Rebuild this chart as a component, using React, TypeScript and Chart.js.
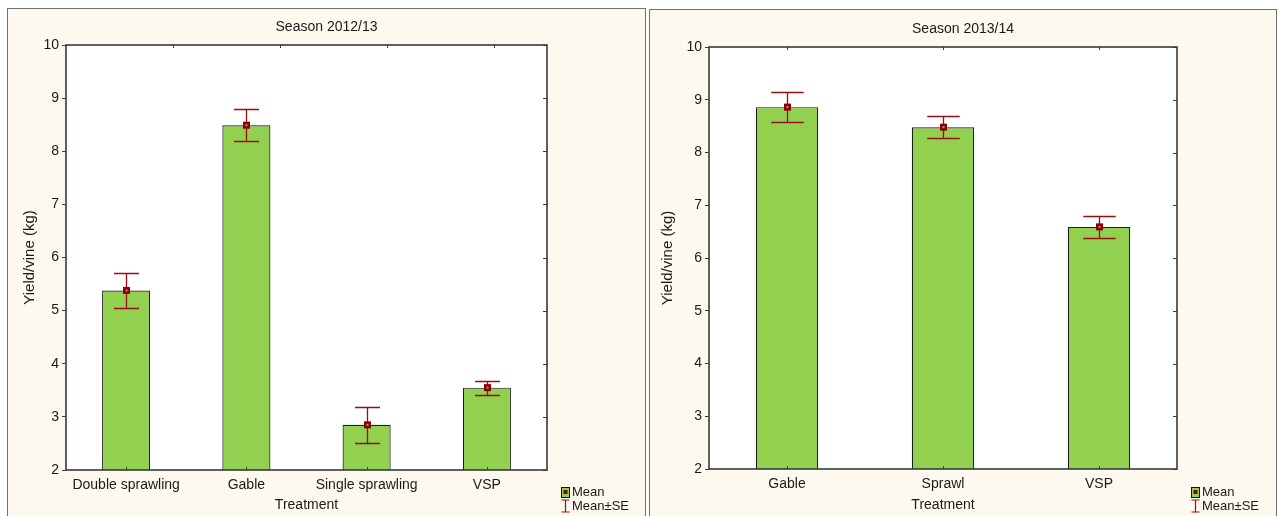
import React, { useEffect, useRef } from "react";
import { Chart, registerables } from "chart.js";

Chart.register(...registerables);

// Season 2012/13
const categories2012 = ["Double sprawling", "Gable", "Single sprawling", "VSP"];
const means2012 = [5.38, 8.49, 2.85, 3.55];
const se2012 = [0.33, 0.3, 0.34, 0.13];

// Season 2013/14
const categories2013 = ["Gable", "Sprawl", "VSP"];
const means2013 = [8.86, 8.48, 6.59];
const se2013 = [0.28, 0.21, 0.21];

const yMin = 2;
const yMax = 10;
const yStep = 1;

const FONT = "'Liberation Sans', Arial, Helvetica, sans-serif";
const TEXT = "#1a1a1a";
const FRAME = "#3a3a3a";
const BAR_FILL = "#92d050";
const BAR_EDGE = "#1e1e1e";
const ERR = "#9a0f16";
const PANEL_BG = "#fef9ef";

type PanelOpts = {
  title: string;
  means: number[];
  se: number[];
  topTickStep: number | null;
};

// Draws the Statistica-style decorations: plot frame, mirrored ticks,
// mean ± SE whiskers, mean markers, panel title and legend.
const statPanel = {
  id: "statPanel",
  beforeDatasetsDraw(chart: any) {
    const { ctx, chartArea: a } = chart;
    ctx.save();
    ctx.fillStyle = "#ffffff";
    ctx.fillRect(a.left, a.top, a.right - a.left, a.bottom - a.top);
    ctx.restore();
  },
  afterDatasetsDraw(chart: any, _args: any, opts: PanelOpts) {
    const { ctx, chartArea: a, scales } = chart;
    const y = scales.y;
    const meta = chart.getDatasetMeta(0);
    ctx.save();

    // bottom ticks pointing into the plot at each category
    ctx.strokeStyle = FRAME;
    ctx.lineWidth = 1;
    meta.data.forEach((bar: any) => {
      const x = Math.round(bar.x) + 0.5;
      ctx.beginPath();
      ctx.moveTo(x, a.bottom);
      ctx.lineTo(x, a.bottom - 3);
      ctx.stroke();
    });

    // top ticks pointing down
    const topXs: number[] = [];
    if (opts.topTickStep) {
      const w = a.right - a.left;
      for (let f = opts.topTickStep; f < 1 - 1e-6; f += opts.topTickStep) {
        topXs.push(a.left + f * w);
      }
    } else {
      meta.data.forEach((bar: any) => topXs.push(bar.x));
    }
    topXs.forEach((tx) => {
      const x = Math.round(tx) + 0.5;
      ctx.beginPath();
      ctx.moveTo(x, a.top);
      ctx.lineTo(x, a.top + 3);
      ctx.stroke();
    });

    // right-hand ticks pointing into the plot
    for (let v = yMin; v <= yMax; v += yStep) {
      const py = Math.round(y.getPixelForValue(v)) + 0.5;
      ctx.beginPath();
      ctx.moveTo(a.right, py);
      ctx.lineTo(a.right - 4, py);
      ctx.stroke();
    }

    // frame
    ctx.lineWidth = 1.6;
    ctx.strokeStyle = FRAME;
    ctx.strokeRect(a.left, a.top, a.right - a.left, a.bottom - a.top);

    // whiskers and mean markers
    meta.data.forEach((bar: any, i: number) => {
      const m = opts.means[i];
      const s = opts.se[i];
      const x = Math.round(bar.x) + 0.5;
      const cap = bar.width * 0.26;
      const yHi = Math.round(y.getPixelForValue(m + s)) + 0.5;
      const yLo = Math.round(y.getPixelForValue(m - s)) + 0.5;
      const yM = y.getPixelForValue(m);
      ctx.strokeStyle = ERR;
      ctx.lineWidth = 1.3;
      ctx.beginPath();
      ctx.moveTo(x, yHi);
      ctx.lineTo(x, yLo);
      ctx.moveTo(x - cap, yHi);
      ctx.lineTo(x + cap, yHi);
      ctx.moveTo(x - cap, yLo);
      ctx.lineTo(x + cap, yLo);
      ctx.stroke();
      ctx.fillStyle = "#8b0000";
      ctx.fillRect(x - 3.5, yM - 3.5, 7, 7);
      ctx.fillStyle = "#d88080";
      ctx.fillRect(x - 1, yM - 1, 2, 2);
    });

    // panel title
    ctx.fillStyle = TEXT;
    ctx.font = `14px ${FONT}`;
    ctx.textAlign = "center";
    ctx.textBaseline = "middle";
    ctx.fillText(opts.title, chart.width / 2, a.top - 18);

    // legend
    const lx = a.right + 14;
    const ly1 = chart.height - 24;
    const ly2 = chart.height - 10;
    ctx.fillStyle = BAR_FILL;
    ctx.fillRect(lx, ly1 - 5, 8, 10);
    ctx.strokeStyle = "#111";
    ctx.lineWidth = 1;
    ctx.strokeRect(lx + 0.5, ly1 - 5 + 0.5, 8, 10);
    ctx.fillStyle = "#8b0000";
    ctx.fillRect(lx + 2.5, ly1 - 2, 4, 4);

    ctx.strokeStyle = ERR;
    ctx.lineWidth = 1.2;
    const ix = Math.round(lx + 4) + 0.5;
    ctx.beginPath();
    ctx.moveTo(ix, ly2 - 6);
    ctx.lineTo(ix, ly2 + 6);
    ctx.moveTo(ix - 4, ly2 - 6);
    ctx.lineTo(ix + 4, ly2 - 6);
    ctx.moveTo(ix - 4, ly2 + 6);
    ctx.lineTo(ix + 4, ly2 + 6);
    ctx.stroke();

    ctx.fillStyle = TEXT;
    ctx.font = `13px ${FONT}`;
    ctx.textAlign = "left";
    ctx.fillText("Mean", lx + 11, ly1);
    ctx.fillText("Mean±SE", lx + 11, ly2);

    ctx.restore();
  },
};

type ChartProps = {
  width: number;
  height: number;
  labels: string[];
  means: number[];
  se: number[];
  title: string;
  axisWidth: number;
  axisHeight: number;
  padTop: number;
  padRight: number;
  yTitlePad: number;
  topTickStep: number | null;
};

function SeasonChart(p: ChartProps) {
  const ref = useRef<HTMLCanvasElement | null>(null);

  useEffect(() => {
    if (!ref.current) return;
    const chart = new Chart(ref.current, {
      type: "bar",
      data: {
        labels: p.labels,
        datasets: [
          {
            data: p.means,
            backgroundColor: BAR_FILL,
            borderColor: BAR_EDGE,
            borderWidth: 1.2,
            barPercentage: 0.4,
            categoryPercentage: 1,
          },
        ],
      },
      options: {
        responsive: false,
        animation: false,
        devicePixelRatio: 1,
        layout: { padding: { top: p.padTop, right: p.padRight, left: 0, bottom: 0 } },
        plugins: {
          legend: { display: false },
          tooltip: { enabled: false },
          title: { display: false },
          statPanel: {
            title: p.title,
            means: p.means,
            se: p.se,
            topTickStep: p.topTickStep,
          },
        } as any,
        scales: {
          x: {
            grid: { display: false, drawTicks: false },
            border: { display: false },
            ticks: { color: TEXT, font: { family: FONT, size: 14 }, padding: 7, maxRotation: 0 },
            title: {
              display: true,
              text: "Treatment",
              color: TEXT,
              font: { family: FONT, size: 14 },
              padding: { top: 0, bottom: 2 },
            },
            afterFit: (s: any) => {
              s.height = p.axisHeight;
            },
          },
          y: {
            min: yMin,
            max: yMax,
            grid: { drawOnChartArea: false, tickLength: 4, color: FRAME, lineWidth: 1 },
            border: { display: false },
            ticks: { stepSize: yStep, color: TEXT, font: { family: FONT, size: 14 }, padding: 3 },
            title: {
              display: true,
              text: "Yield/vine (kg)",
              color: TEXT,
              font: { family: FONT, size: 15 },
              padding: { top: p.yTitlePad, bottom: 0 },
            },
            afterFit: (s: any) => {
              s.width = p.axisWidth;
            },
          },
        },
      },
      plugins: [statPanel as any],
    });
    return () => chart.destroy();
  }, []);

  return <canvas ref={ref} width={p.width} height={p.height} style={{ display: "block" }} />;
}

export default function App() {
  const panel: React.CSSProperties = {
    position: "absolute",
    border: "1px solid #707070",
    background: PANEL_BG,
    boxSizing: "content-box",
    overflow: "hidden",
  };
  return (
    <div
      style={{
        position: "absolute",
        left: 0,
        top: 0,
        width: 1279,
        height: 516,
        background: "#ffffff",
        overflow: "hidden",
      }}
    >
      <div style={{ ...panel, left: 7, top: 8, width: 637, height: 520 }}>
        <SeasonChart
          width={637}
          height={507}
          labels={categories2012}
          means={means2012}
          se={se2012}
          title="Season 2012/13"
          axisWidth={58}
          axisHeight={46}
          padTop={36}
          padRight={98}
          yTitlePad={13}
          topTickStep={2 / 9}
        />
      </div>
      <div style={{ ...panel, left: 649, top: 9, width: 626, height: 520 }}>
        <SeasonChart
          width={626}
          height={506}
          labels={categories2013}
          means={means2013}
          se={se2013}
          title="Season 2013/14"
          axisWidth={59}
          axisHeight={47}
          padTop={37}
          padRight={99}
          yTitlePad={9}
          topTickStep={null}
        />
      </div>
    </div>
  );
}
